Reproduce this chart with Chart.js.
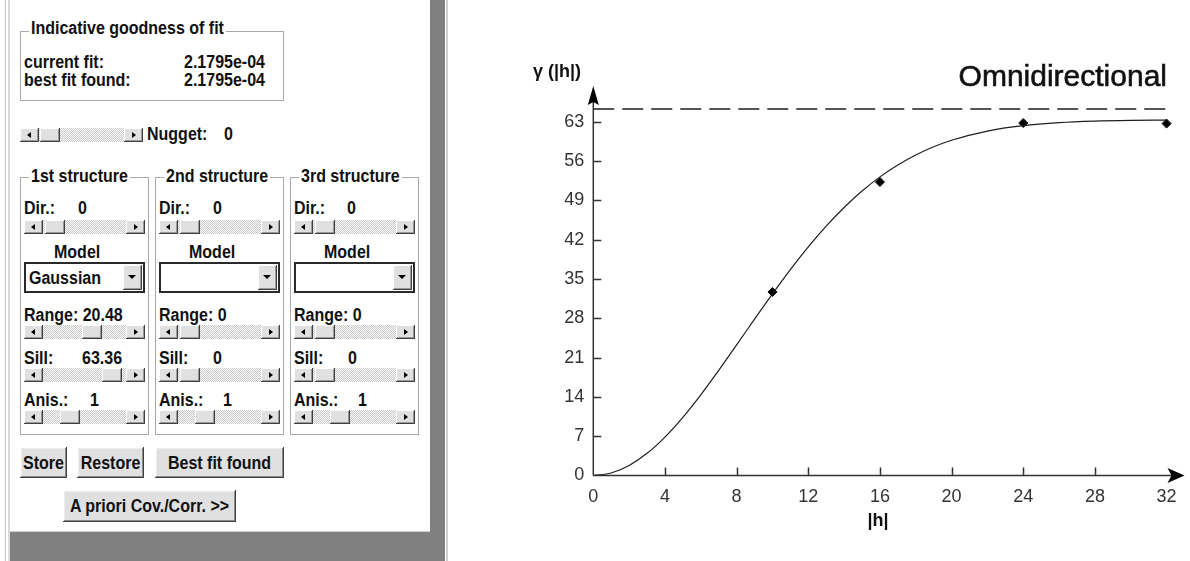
<!DOCTYPE html>
<html>
<head>
<meta charset="utf-8">
<script src="https://cdn.jsdelivr.net/npm/chart.js@4.4.0/dist/chart.umd.min.js"></script>
<style>
  html, body { margin: 0; padding: 0; background: #fff; width: 1190px; height: 561px; overflow: hidden; }
  .box { position: absolute; }
  .txt { position: absolute; font: bold 16px "Liberation Sans", Arial, sans-serif; color: #111;
         white-space: nowrap; line-height: 18px; height: 18px; transform: scaleY(1.15); transform-origin: left center; }
  .grp { position: absolute; border: 1px solid #a9a9a9; box-sizing: border-box; }
  .cap { background: #fff; padding: 0 2px; }
  .track { position: absolute; height: 14px; box-sizing: border-box;
           background: repeating-conic-gradient(#c6c6c6 0 25%, #fff 0 50%) 0 0 / 2px 2px; }
  .face { position: absolute; background: #e0e0e0; box-sizing: border-box;
          box-shadow: inset -1px -1px #404040, inset 1px 1px #fff, inset -2px -2px #9a9a9a; }
  .arrow { position: absolute; width: 0; height: 0; border-top: 3px solid transparent; border-bottom: 3px solid transparent; top: 4px; }
  .btn { position: absolute; background: #e0e0e0; box-sizing: border-box; text-align: center;
         box-shadow: inset -1px -1px #404040, inset 1px 1px #fff, inset -2px -2px #8c8c8c, inset 2px 2px #ececec; }
  .combo { position: absolute; background: #fff; box-sizing: border-box; border: 2px solid #2a2a2a; }
  #chart { position: absolute; left: 450px; top: 0; }
</style>
</head>
<body>
<div id="panel"></div>
<canvas id="chart" width="740" height="561"></canvas>
<script>
// ---- variogram data ----
const xTicks = [0, 4, 8, 12, 16, 20, 24, 28, 32];
const yTicks = [0, 7, 14, 21, 28, 35, 42, 49, 56, 63];
const xRange = [0, 33];
const yRange = [0, 69.4];

// experimental variogram (lag |h|, gamma)
const lagH = [10, 16, 24, 32];
const lagGamma = [32.7, 52.3, 62.8, 62.7];

// fitted Gaussian model curve (lag |h|, gamma)
const modelH = [0, 1, 2, 3, 4, 5, 6, 7, 8, 9, 10, 11, 12, 13, 14, 15, 16, 17, 18, 19, 20, 22, 24, 26, 28, 30, 32];
const modelGamma = [0, 0.45, 1.79, 3.95, 6.85, 10.37, 14.38, 18.73, 23.27, 27.86, 32.37, 36.70, 40.74, 44.44,
                    47.76, 50.69, 53.21, 55.34, 57.12, 58.57, 59.74, 61.37, 62.33, 62.86, 63.13, 63.26, 63.32];

// data variance level (dashed line)
const varianceLevel = 65.3;

// ---- control panel ----
const panel = document.getElementById('panel');
function div(cls, x, y, w, h, style) {
  const d = document.createElement('div');
  d.className = cls;
  d.style.left = x + 'px'; d.style.top = y + 'px';
  if (w != null) d.style.width = w + 'px';
  if (h != null) d.style.height = h + 'px';
  if (style) Object.assign(d.style, style);
  panel.appendChild(d);
  return d;
}
function text(str, x, cy, extra) {
  const d = div('txt', x, cy - 9, null, null, extra);
  d.textContent = str;
  return d;
}
function arrowGlyph(parent, dir) {
  const a = document.createElement('div');
  a.className = 'arrow';
  if (dir === 'l') { a.style.borderRight = '4px solid #000'; a.style.left = '7px'; }
  else { a.style.borderLeft = '4px solid #000'; a.style.left = '8px'; }
  parent.appendChild(a);
}
function scrollbar(x, y, w, thumb) {
  const t = div('track', x, y, w, 14);
  const l = document.createElement('div'); l.className = 'face';
  Object.assign(l.style, { left: '0px', top: '0px', width: '19px', height: '14px' });
  arrowGlyph(l, 'l'); t.appendChild(l);
  const r = document.createElement('div'); r.className = 'face';
  Object.assign(r.style, { left: (w - 19) + 'px', top: '0px', width: '19px', height: '14px' });
  arrowGlyph(r, 'r'); t.appendChild(r);
  const th = document.createElement('div'); th.className = 'face';
  Object.assign(th.style, { left: thumb + 'px', top: '0px', width: '20px', height: '14px' });
  t.appendChild(th);
}
function button(label, x, y, w, h) {
  const b = div('btn', x, y, w, h);
  const s = document.createElement('div');
  s.className = 'txt';
  Object.assign(s.style, { position: 'absolute', left: '0', width: w + 'px', top: (h / 2 - 9) + 'px', transformOrigin: 'center center' });
  s.textContent = label;
  b.appendChild(s);
}

// window frame
div('box', 5, 0, 1, 561, { background: '#c4c4c4' });
div('box', 8, 0, 2, 561, { background: '#dadada' });
div('box', 430, 0, 15, 561, { background: '#808080' });
div('box', 446, 0, 2, 561, { background: '#d0d0d0' });
div('box', 10, 531, 420, 1, { background: '#cfcfcf' });
div('box', 10, 532, 420, 29, { background: '#808080' });

// goodness of fit
div('grp', 20, 31, 264, 70);
text('Indicative goodness of fit', 29, 28).classList.add('cap');
text('current fit:', 24, 62);
text('best fit found:', 24, 80);
text('2.1795e-04', 184, 62);
text('2.1795e-04', 184, 80);

// nugget
scrollbar(20, 128, 123, 20);
text('Nugget:', 147, 134);
text('0', 224, 134);

// nested structures
const structTitles = ['1st structure', '2nd structure', '3rd structure'];
const structModel = ['Gaussian', '', ''];
const structDir = ['0', '0', '0'];
const structRange = ['20.48', '0', '0'];
const structSill = ['63.36', '0', '0'];
const structAnis = ['1', '1', '1'];
const thumbDir = [21, 21, 21], thumbRange = [58, 21, 21], thumbSill = [78, 21, 21], thumbAnis = [36, 36, 36];
const sillValX = [62, 58, 58], anisValX = [70, 68, 68], dirValX = [58, 58, 57];
[20, 155, 290].forEach((bx, i) => {
  div('grp', bx, 177, 129, 258);
  text(structTitles[i], bx + 9, 176).classList.add('cap');
  text('Dir.:', bx + 4, 208);
  text(structDir[i], bx + dirValX[i], 208);
  scrollbar(bx + 4, 220, 121, thumbDir[i]);
  const m = text('Model', bx + 57, 252, { transformOrigin: 'center center' });
  m.style.left = (bx + 57 - m.offsetWidth / 2) + 'px';
  const c = div('combo', bx + 4, 262, 121, 31);
  const cb = document.createElement('div'); cb.className = 'face';
  Object.assign(cb.style, { left: '97px', top: '1px', width: '19px', height: '25px' });
  const tri = document.createElement('div');
  Object.assign(tri.style, { position: 'absolute', left: '5px', top: '10px', width: '0', height: '0',
    borderLeft: '4px solid transparent', borderRight: '4px solid transparent', borderTop: '4px solid #000' });
  cb.appendChild(tri); c.appendChild(cb);
  if (structModel[i]) text(structModel[i], bx + 9, 278);
  text('Range: ' + structRange[i], bx + 4, 315);
  scrollbar(bx + 4, 325, 121, thumbRange[i]);
  text('Sill:', bx + 4, 358);
  text(structSill[i], bx + sillValX[i], 358);
  scrollbar(bx + 4, 368, 121, thumbSill[i]);
  text('Anis.:', bx + 4, 400);
  text(structAnis[i], bx + anisValX[i], 400);
  scrollbar(bx + 4, 410, 121, thumbAnis[i]);
});

button('Store', 20, 447, 47, 31);
button('Restore', 77, 447, 67, 31);
button('Best fit found', 155, 447, 129, 31);
button('A priori Cov./Corr. >>', 63, 490, 173, 32);

// ---- variogram chart ----
const axisDecor = {
  id: 'axisDecor',
  afterDatasetsDraw(chart) {
    const { ctx, chartArea: a, scales: { x, y } } = chart;
    const x0 = x.getPixelForValue(0), y0 = y.getPixelForValue(0);
    ctx.save();
    ctx.strokeStyle = '#333';
    ctx.lineWidth = 1.5;
    ctx.beginPath();
    ctx.moveTo(x0, y0); ctx.lineTo(a.right - 12, y0);
    ctx.moveTo(x0, y0); ctx.lineTo(x0, a.top + 12);
    xTicks.forEach(v => {
      if (v === 0 || v === 32) return;
      const px = Math.round(x.getPixelForValue(v)) + 0.5;
      ctx.moveTo(px, y0); ctx.lineTo(px, y0 - 8);
    });
    yTicks.forEach(v => {
      if (v === 0) return;
      const py = Math.round(y.getPixelForValue(v)) + 0.5;
      ctx.moveTo(x0, py); ctx.lineTo(x0 + 8, py);
    });
    ctx.stroke();
    ctx.fillStyle = '#000';
    ctx.beginPath();
    ctx.moveTo(a.right, y0); ctx.lineTo(a.right - 17, y0 - 7.5); ctx.lineTo(a.right - 13, y0); ctx.lineTo(a.right - 17, y0 + 7.5);
    ctx.closePath(); ctx.fill();
    ctx.beginPath();
    ctx.moveTo(x0, a.top); ctx.lineTo(x0 - 5.5, a.top + 19); ctx.lineTo(x0, a.top + 16); ctx.lineTo(x0 + 5.5, a.top + 19);
    ctx.closePath(); ctx.fill();

    ctx.fillStyle = '#111';
    ctx.strokeStyle = '#111';
    ctx.lineWidth = 0.6;
    ctx.font = '30px "Liberation Sans", Arial, sans-serif';
    ctx.textAlign = 'right'; ctx.textBaseline = 'alphabetic';
    ctx.fillText('Omnidirectional', 717, 86);
    ctx.strokeText('Omnidirectional', 717, 86);
    ctx.font = 'bold 18px "Liberation Sans", Arial, sans-serif';
    ctx.textAlign = 'left'; ctx.textBaseline = 'middle';
    ctx.fillText('\u03b3 (|h|)', 83, 72);
    ctx.textAlign = 'center';
    ctx.fillText('|h|', x.getPixelForValue(16) - 2, 521);
    ctx.restore();
  }
};

const tickFont = { family: '"Liberation Sans", Arial, sans-serif', size: 18 };
new Chart(document.getElementById('chart'), {
  type: 'line',
  data: {
    datasets: [
      { data: modelH.map((h, i) => ({ x: h, y: modelGamma[i] })), borderColor: '#1e1e1e', borderWidth: 1.2,
        pointRadius: 0, cubicInterpolationMode: 'monotone', fill: false },
      { data: [{ x: 0, y: varianceLevel }, { x: 32, y: varianceLevel }], borderColor: '#1e1e1e', borderWidth: 1.6,
        borderDash: [21, 8], pointRadius: 0, fill: false },
      { type: 'scatter', data: lagH.map((h, i) => ({ x: h, y: lagGamma[i] })), pointStyle: 'rectRot',
        pointRadius: 4.5, backgroundColor: '#000', borderColor: '#000', showLine: false }
    ]
  },
  options: {
    responsive: false, animation: false, events: [],
    layout: { padding: { left: 0, right: 5, top: 86, bottom: 0 } },
    plugins: { legend: { display: false }, tooltip: { enabled: false } },
    scales: {
      x: {
        type: 'linear', min: xRange[0], max: xRange[1],
        grid: { display: false, drawTicks: false }, border: { display: false },
        ticks: { padding: 11, font: tickFont, color: '#333' },
        afterBuildTicks: s => { s.ticks = xTicks.map(v => ({ value: v })); },
        afterFit: s => { s.height = 85.5; }
      },
      y: {
        type: 'linear', min: yRange[0], max: yRange[1],
        grid: { display: false, drawTicks: false }, border: { display: false },
        ticks: { padding: 9, font: tickFont, color: '#333' },
        afterBuildTicks: s => { s.ticks = yTicks.map(v => ({ value: v })); },
        afterFit: s => { s.width = 143.3; }
      }
    }
  },
  plugins: [axisDecor]
});
</script>
</body>
</html>
